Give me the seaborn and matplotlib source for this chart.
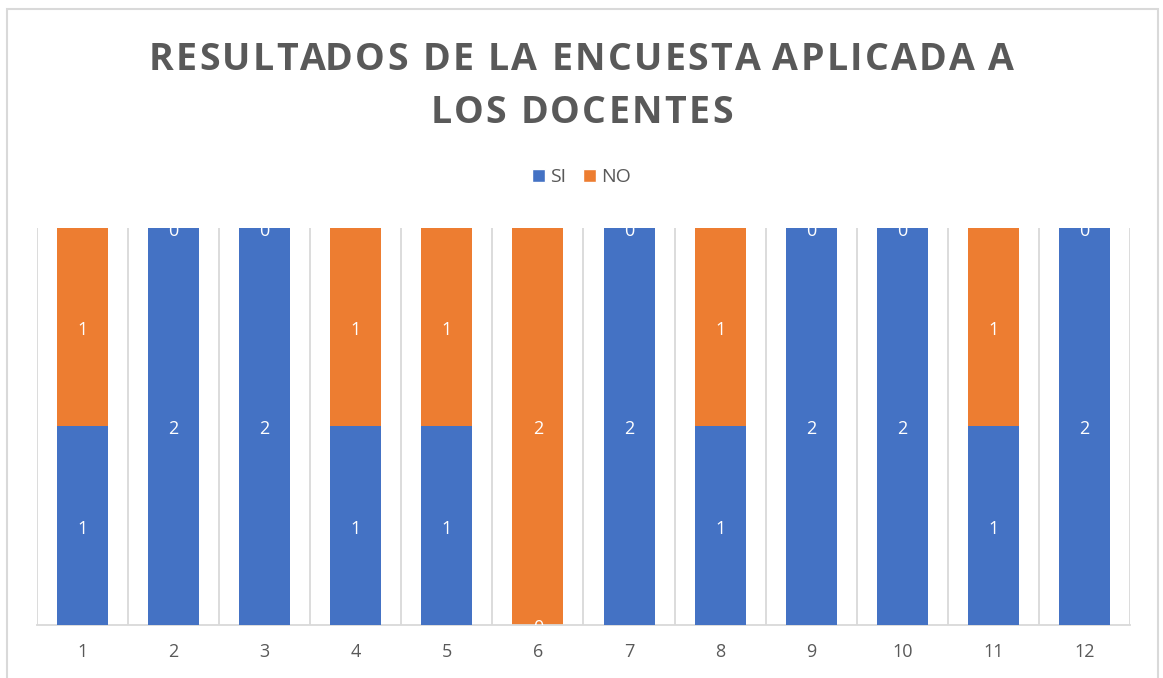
import numpy as np
import pandas as pd
import seaborn as sns
import matplotlib.pyplot as plt
from matplotlib.patches import Rectangle, Patch
from matplotlib.transforms import offset_copy

# === Data ===
preguntas = ['1', '2', '3', '4', '5', '6', '7', '8', '9', '10', '11', '12']
si_vals = [1, 2, 2, 1, 1, 0, 2, 1, 2, 2, 1, 2]
no_vals = [1, 0, 0, 1, 1, 2, 0, 1, 0, 0, 1, 0]
title_lines = ['RESULTADOS DE LA ENCUESTA APLICADA A', 'LOS DOCENTES']

BLUE = '#4472C4'
ORANGE = '#ED7D31'
GRAY = '#595959'
GRID = '#D9D9D9'

df = pd.DataFrame({'pregunta': preguntas, 'SI': si_vals, 'NO': no_vals})
df['total'] = df['SI'] + df['NO']

sns.set_theme(style='white')
plt.rcParams['font.family'] = ['Open Sans', 'DejaVu Sans']

W, H = 1163, 678
fig = plt.figure(figsize=(W / 100, H / 100), dpi=100)
ax = fig.add_axes([0.0318, 0.0782, 0.9398, 0.5855])

# stacked bars: total in orange, SI on top in blue
sns.barplot(data=df, x='pregunta', y='total', color=ORANGE, width=0.56,
            saturation=1, linewidth=0, ax=ax, zorder=2)
sns.barplot(data=df, x='pregunta', y='SI', color=BLUE, width=0.56,
            saturation=1, linewidth=0, ax=ax, zorder=3)

# data labels (white, centred in each segment, clipped like the original)
lab_tr = offset_copy(ax.transData, fig=fig, y=-3, units='dots')
for i, (s, n) in enumerate(zip(si_vals, no_vals)):
    ax.text(i, s / 2, f"{s}", ha='center', va='center', color='white',
            fontsize=13, zorder=5, clip_on=True, transform=lab_tr)
    ax.text(i, s + n / 2, f"{n}", ha='center', va='center', color='white',
            fontsize=13, zorder=5, clip_on=True, transform=lab_tr)

ax.set_ylim(0, 2)
ax.set_xlim(-0.5, len(preguntas) - 0.5)
ax.set_yticks([])
ax.set_xlabel('')
ax.set_ylabel('')
ax.set_xticks(np.arange(-0.5, len(preguntas)), minor=True)
ax.grid(True, which='minor', axis='x', color=GRID, linewidth=1.3, zorder=0)
ax.grid(False, which='major')
ax.tick_params(axis='x', which='both', length=0, labelsize=13, colors=GRAY, pad=13)
ax.set_axisbelow(True)
for side in ['top', 'left', 'right']:
    ax.spines[side].set_visible(False)
ax.spines['bottom'].set_color(GRID)
ax.spines['bottom'].set_linewidth(1.3)


# title with letter spacing (matplotlib has none, so place chars one by one)
def spaced_line(txt, y_px, gap, size):
    r = fig.canvas.get_renderer()
    kw = dict(fontsize=size, fontweight='bold', color=GRAY, va='baseline')
    probe = fig.text(0, 0, '|', **kw)
    bar_w = probe.get_window_extent(r).width
    probe.remove()

    def width(s):
        t = fig.text(0, 0, s + '|', **kw)
        w = t.get_window_extent(r).width - bar_w
        t.remove()
        return w

    total = width(txt) + gap * (len(txt) - 1)
    x0 = W / 2 - total / 2
    for i, ch in enumerate(txt):
        if ch == ' ':
            continue
        x = x0 + width(txt[:i]) + gap * i
        fig.text(x / W, 1 - y_px / H, ch, ha='left', **kw)


spaced_line(title_lines[0], 70, 2.3, 27)
spaced_line(title_lines[1], 123, 2.3, 27)

# legend
handles = [Patch(facecolor=BLUE, label='SI'), Patch(facecolor=ORANGE, label='NO')]
fig.legend(handles=handles, loc='center', bbox_to_anchor=(0.5, 1 - 177 / H), ncol=2,
           frameon=False, fontsize=14, labelcolor=GRAY, handlelength=0.65,
           handleheight=0.65, handletextpad=0.25, columnspacing=0.9)

# outer chart frame
fig.patches.append(Rectangle((7 / W, -0.02), 1151 / W, 1.0 - 9 / H + 0.02,
                             transform=fig.transFigure, fill=False,
                             edgecolor=GRID, linewidth=1.5))

fig.savefig('out.png', dpi=100)
